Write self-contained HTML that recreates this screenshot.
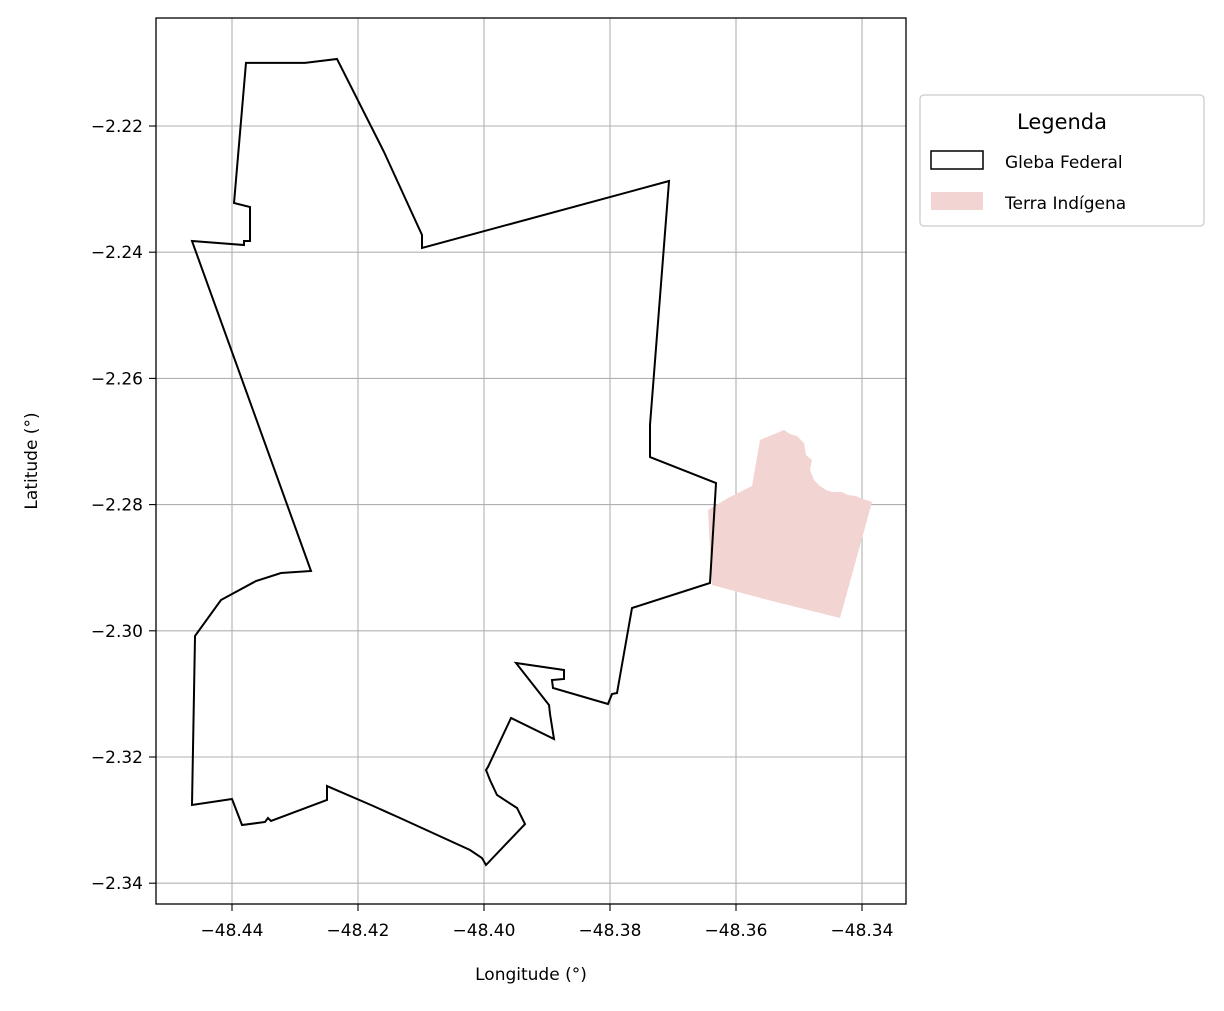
<!DOCTYPE html>
<html><head><meta charset="utf-8"><style>
body{margin:0;background:#fff;font-family:"Liberation Sans","DejaVu Sans",sans-serif}
svg text{font-family:"DejaVu Sans","Liberation Sans",sans-serif;fill:#000}
</style></head><body>
<svg id="chart" width="1224" height="1006" xmlns="http://www.w3.org/2000/svg">
<g id="grid"></g>
<g id="ti"></g>
<g id="gleba"></g>
<rect x="156" y="18" width="750" height="886" fill="none" stroke="#000" stroke-width="1.3"/>
<g id="ticks"></g>
<text x="531" y="980" font-size="17" text-anchor="middle">Longitude (°)</text>
<text transform="translate(37,461) rotate(-90)" font-size="17" text-anchor="middle">Latitude (°)</text>
<g>
<rect x="920" y="95" width="284" height="131" rx="4" fill="#fff" stroke="#ccc" stroke-width="1.3"/>
<text x="1062" y="129" font-size="21" text-anchor="middle">Legenda</text>
<rect x="931" y="151" width="52" height="18" fill="none" stroke="#000" stroke-width="1.5"/>
<text x="1005" y="168" font-size="17">Gleba Federal</text>
<rect x="931" y="192" width="52" height="18" fill="#f2d4d2"/>
<text x="1005" y="209" font-size="17">Terra Indígena</text>
</g>
</svg>
<script>
const xTicks=[-48.44,-48.42,-48.40,-48.38,-48.36,-48.34];
const yTicks=[-2.22,-2.24,-2.26,-2.28,-2.30,-2.32,-2.34];
const glebaLon=[-48.43778,-48.42841,-48.42333,-48.41587,-48.40984,-48.40984,-48.37063,-48.37365,-48.37365,-48.36317,-48.36413,-48.37651,-48.37889,-48.37968,-48.38032,-48.38905,-48.38921,-48.38730,-48.38730,-48.39492,-48.38968,-48.38952,-48.38889,-48.39571,-48.39937,-48.39968,-48.39905,-48.39794,-48.39476,-48.39349,-48.39968,-48.40032,-48.40222,-48.41333,-48.41794,-48.42492,-48.42492,-48.43381,-48.43429,-48.43476,-48.43841,-48.44,-48.44635,-48.44587,-48.44175,-48.43619,-48.43222,-48.42746,-48.44635,-48.43810,-48.43810,-48.43714,-48.43714,-48.43968,-48.43778];
const glebaLat=[-2.21,-2.21,-2.20938,-2.22412,-2.23727,-2.23933,-2.22872,-2.26738,-2.27246,-2.27658,-2.29242,-2.29639,-2.30986,-2.31002,-2.31160,-2.30906,-2.30780,-2.30764,-2.30621,-2.30510,-2.31176,-2.31319,-2.31715,-2.31382,-2.32158,-2.32206,-2.32365,-2.32602,-2.32808,-2.33062,-2.33712,-2.33601,-2.33474,-2.32967,-2.32761,-2.32460,-2.32681,-2.33014,-2.32967,-2.33030,-2.33078,-2.32666,-2.32761,-2.30082,-2.29512,-2.29211,-2.29084,-2.29052,-2.23823,-2.23886,-2.23823,-2.23823,-2.23284,-2.23220,-2.21];
const tiLon=[-48.36444,-48.36127,-48.35746,-48.35619,-48.35238,-48.35143,-48.35032,-48.34921,-48.34889,-48.34794,-48.34825,-48.34762,-48.34667,-48.34571,-48.34476,-48.34317,-48.34222,-48.34095,-48.34032,-48.33841,-48.34349,-48.35492,-48.36381];
const tiLat=[-2.28086,-2.27895,-2.27705,-2.26976,-2.26818,-2.26881,-2.26913,-2.27024,-2.27214,-2.27293,-2.27452,-2.27610,-2.27705,-2.27769,-2.27800,-2.27800,-2.27848,-2.27864,-2.27895,-2.27959,-2.29797,-2.29512,-2.29274];
const NS='http://www.w3.org/2000/svg';
function sx(v){return 232+(v+48.44)*6300;}
function sy(v){return 126-(v+2.22)*6310;}
function mk(p,tag,attrs){const e=document.createElementNS(NS,tag);for(const k in attrs)e.setAttribute(k,attrs[k]);document.getElementById(p).appendChild(e);return e;}
xTicks.forEach(t=>{const x=sx(t);
 const g=mk('grid','line',{x1:x,x2:x,y1:18,y2:904,stroke:'#b0b0b0','stroke-width':1.1});
 
 
 const tk=mk('ticks','line',{x1:x,x2:x,y1:904,y2:911,stroke:'#000','stroke-width':1.1});
 
 
 const tx=mk('ticks','text',{x:x,y:936,'font-size':17,'text-anchor':'middle'});
 
 
 tx.textContent='\u2212'+Math.abs(t).toFixed(2);});
yTicks.forEach(t=>{const y=sy(t);
 const g=mk('grid','line',{x1:156,x2:906,y1:y,y2:y,stroke:'#b0b0b0','stroke-width':1.1});
 
 
 const tk=mk('ticks','line',{x1:149,x2:156,y1:y,y2:y,stroke:'#000','stroke-width':1.1});
 
 
 const tx=mk('ticks','text',{x:143,y:y+6,'font-size':17,'text-anchor':'end'});
 
 
 tx.textContent='\u2212'+Math.abs(t).toFixed(2);});
const tiPts=tiLon.map((v,i)=>sx(v)+','+sy(tiLat[i])).join(' ');
const ti=mk('ti','polygon',{points:tiPts,fill:'#f2d4d2'});


const gPts=glebaLon.map((v,i)=>sx(v)+','+sy(glebaLat[i])).join(' ');
const gl=mk('gleba','polygon',{points:gPts,fill:'none',stroke:'#000','stroke-width':2,'stroke-linejoin':'miter'});


</script>
</body></html>
